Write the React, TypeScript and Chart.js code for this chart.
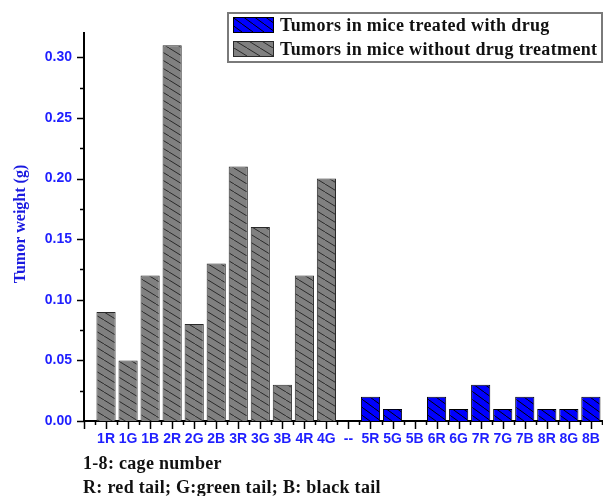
import React, { useEffect, useRef } from 'react';
import { Chart, registerables } from 'chart.js';

Chart.register(...registerables);

const categories = ['1R', '1G', '1B', '2R', '2G', '2B', '3R', '3G', '3B', '4R', '4G', '--',
  '5R', '5G', '5B', '6R', '6G', '7R', '7G', '7B', '8R', '8G', '8B'];
const treatedValues: (number | null)[] = [null, null, null, null, null, null, null, null, null, null, null, null,
  0.02, 0.01, 0, 0.02, 0.01, 0.03, 0.01, 0.02, 0.01, 0.01, 0.02];
const untreatedValues: (number | null)[] = [0.09, 0.05, 0.12, 0.31, 0.08, 0.13, 0.21, 0.16, 0.03, 0.12, 0.2,
  null, null, null, null, null, null, null, null, null, null, null, null];
const yTicks = [0, 0.05, 0.1, 0.15, 0.2, 0.25, 0.3];
const seriesLabels = ['Tumors in mice treated with drug', 'Tumors in mice without drug treatment'];
const yTitle = 'Tumor weight (g)';
const notes = ['1-8: cage number', 'R: red tail; G:green tail; B: black tail'];

const BLUE_TEXT = '#1f1fff';
const SERIF = '"Liberation Serif", "Times New Roman", serif';
const SANS = '"Liberation Sans", Arial, sans-serif';

function makePattern(bg: string, line: string, w: number, h: number): CanvasPattern | string {
  const c = document.createElement('canvas');
  c.width = w;
  c.height = h;
  const g = c.getContext('2d');
  if (!g) return bg;
  g.fillStyle = bg;
  g.fillRect(0, 0, w, h);
  g.strokeStyle = line;
  g.lineWidth = 1;
  for (const o of [-w, 0, w]) {
    g.beginPath();
    g.moveTo(o, 0);
    g.lineTo(o + w, h);
    g.stroke();
  }
  const ctx = document.createElement('canvas').getContext('2d');
  return ctx ? (ctx.createPattern(c, 'repeat') as CanvasPattern) : bg;
}

function toPoints(vals: (number | null)[]) {
  const pts: { x: number; y: number }[] = [];
  vals.forEach((v, i) => {
    if (v !== null) pts.push({ x: i + 1, y: v });
  });
  return pts;
}

export default function App() {
  const ref = useRef<HTMLCanvasElement>(null);
  useEffect(() => {
    if (!ref.current) return;
    const bluePat = makePattern('#0000ff', '#000000', 11, 8);
    const grayPat = makePattern('#808080', '#2a2a2a', 13, 8);

    const decor = {
      id: 'decor',
      afterDraw(chart: any) {
        const ctx = chart.ctx as CanvasRenderingContext2D;
        const xs = chart.scales.x;
        const ys = chart.scales.y;
        const area = chart.chartArea;
        ctx.save();
        ctx.strokeStyle = '#000';
        ctx.lineWidth = 1.5;
        // y ticks
        for (let v = 0; v <= ys.max + 1e-9; v += 0.025) {
          const major = Math.abs(v / 0.05 - Math.round(v / 0.05)) < 1e-6;
          const py = Math.round(ys.getPixelForValue(v)) + 0.5;
          ctx.beginPath();
          ctx.moveTo(area.left - (major ? 7 : 4), py);
          ctx.lineTo(area.left, py);
          ctx.stroke();
        }
        // x ticks
        for (let v = 0; v <= xs.max + 1e-9; v += 0.5) {
          const major = Math.abs(v - Math.round(v)) < 1e-6;
          const px = Math.round(xs.getPixelForValue(v)) + 0.5;
          ctx.beginPath();
          ctx.moveTo(px, area.bottom);
          ctx.lineTo(px, area.bottom + (major ? 8 : 4));
          ctx.stroke();
        }
        // y title
        ctx.save();
        ctx.translate(21, (area.top + area.bottom) / 2 - 3);
        ctx.rotate(-Math.PI / 2);
        ctx.fillStyle = '#1a1ae0';
        ctx.font = `bold 16px ${SERIF}`;
        ctx.textAlign = 'center';
        ctx.textBaseline = 'middle';
        ctx.fillText(yTitle, 0, 0);
        ctx.restore();
        // notes
        ctx.fillStyle = '#111';
        ctx.font = `bold 18px ${SERIF}`;
        ctx.textAlign = 'left';
        ctx.textBaseline = 'middle';
        (ctx as any).letterSpacing = '0.3px';
        ctx.fillText(notes[0], 83, 464);
        ctx.fillText(notes[1], 83, 488);
        // legend
        const lx = 228, ly = 13, lw = 374, lh = 49;
        ctx.strokeStyle = '#7a7a7a';
        ctx.lineWidth = 2;
        ctx.strokeRect(lx, ly, lw, lh);
        const fills = [bluePat, grayPat];
        const borders = ['#000', '#2a2a2a'];
        const rows = [25, 49];
        ctx.font = `bold 18px ${SERIF}`;
        (ctx as any).letterSpacing = '0.35px';
        seriesLabels.forEach((lab, i) => {
          ctx.fillStyle = fills[i] as any;
          ctx.fillRect(233, rows[i] - 8, 41, 16);
          ctx.strokeStyle = borders[i];
          ctx.lineWidth = 1;
          ctx.strokeRect(233.5, rows[i] - 7.5, 40, 15);
          ctx.fillStyle = '#111';
          ctx.fillText(lab, 280, rows[i] + 1);
        });
        ctx.restore();
      },
    };

    const chart = new Chart(ref.current, {
      type: 'bar',
      data: {
        datasets: [
          {
            label: seriesLabels[0],
            data: toPoints(treatedValues) as any,
            backgroundColor: bluePat as any,
            borderColor: '#000000',
            borderWidth: 1,
            categoryPercentage: 0.87,
            barPercentage: 1,
          },
          {
            label: seriesLabels[1],
            data: toPoints(untreatedValues) as any,
            backgroundColor: grayPat as any,
            borderColor: '#2a2a2a',
            borderWidth: 1,
            categoryPercentage: 0.87,
            barPercentage: 1,
          },
        ],
      },
      options: {
        responsive: false,
        animation: false,
        layout: { padding: { top: 33, right: 0, bottom: 0, left: 0 } },
        plugins: { legend: { display: false }, tooltip: { enabled: false } },
        datasets: { bar: { grouped: false } } as any,
        scales: {
          x: {
            type: 'linear',
            offset: false,
            min: 0,
            max: 23.55,
            grid: { display: false, drawTicks: false },
            border: { display: true, color: '#000', width: 2 },
            afterFit: (s: any) => {
              s.height = 75;
              s.paddingLeft = 0;
              s.paddingRight = 0;
            },
            afterBuildTicks: (s: any) => {
              s.ticks = categories.map((_, i) => ({ value: i + 1 }));
            },
            ticks: {
              autoSkip: false,
              maxRotation: 0,
              minRotation: 0,
              padding: 10,
              color: BLUE_TEXT,
              font: { family: SANS, size: 14, weight: 'bold' },
              callback: (v: any) => categories[Math.round(Number(v)) - 1] ?? '',
            },
          },
          y: {
            type: 'linear',
            min: 0,
            max: 0.32,
            grid: { display: false, drawTicks: false },
            border: { display: true, color: '#000', width: 2 },
            afterFit: (s: any) => {
              s.width = 84;
              s.paddingTop = 0;
              s.paddingBottom = 0;
            },
            afterBuildTicks: (s: any) => {
              s.ticks = yTicks.map((v) => ({ value: v }));
            },
            ticks: {
              padding: 12,
              color: BLUE_TEXT,
              font: { family: SANS, size: 14, weight: 'bold' },
              callback: (v: any) => Number(v).toFixed(2),
            },
          },
        },
      },
      plugins: [decor],
    });
    return () => chart.destroy();
  }, []);

  return (
    <div style={{ position: 'absolute', left: 0, top: 0, width: 603, height: 496, background: '#fff' }}>
      <canvas ref={ref} width={603} height={496} style={{ width: 603, height: 496 }} />
    </div>
  );
}
